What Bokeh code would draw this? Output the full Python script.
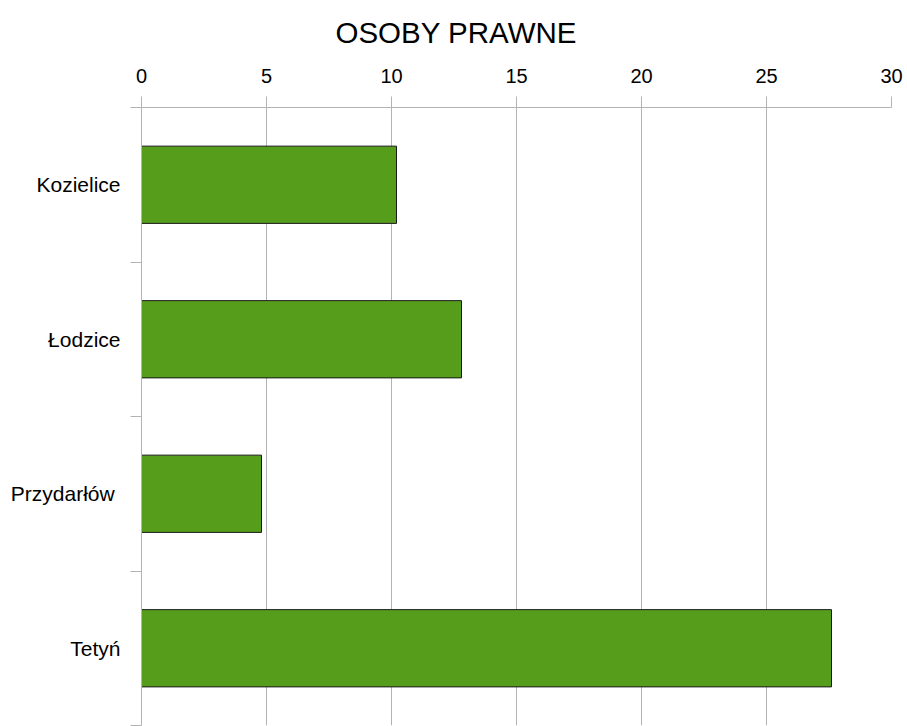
from bokeh.plotting import figure
from bokeh.models import Range1d, FixedTicker, Title
from bokeh.embed import file_html
from bokeh.resources import INLINE

categories = ["Kozielice", "Łodzice", "Przydarłów ", "Tetyń"]
values = [10.2, 12.8, 4.8, 27.6]
x_ticks = [0, 5, 10, 15, 20, 25, 30]

n = len(categories)
ypos = [n - i - 0.5 for i in range(n)]
bounds = [float(i) for i in range(n + 1)]

FONT = "Liberation Sans"
GRID = "#b3b3b3"

p = figure(width=907, height=726, output_backend="svg", toolbar_location=None,
           x_range=Range1d(0, 30), y_range=Range1d(0, n),
           x_axis_location="above", min_border_left=141, min_border_right=16,
           min_border_top=107, min_border_bottom=1, outline_line_color=None)

p.hbar(y=ypos, right=values, left=0, height=0.5, fill_color="#579D1C",
       line_color="#1a1a1a", line_width=1)

xa = p.xaxis[0]
xa.ticker = FixedTicker(ticks=x_ticks)
xa.axis_line_color = GRID
xa.major_tick_line_color = GRID
xa.major_tick_out = 11
xa.major_tick_in = 0
xa.minor_tick_line_color = None
xa.major_label_text_font = FONT
xa.major_label_text_font_size = "20px"
xa.major_label_text_color = "#000000"
xa.major_label_standoff = 14

ya = p.yaxis[0]
ya.ticker = FixedTicker(ticks=ypos, minor_ticks=bounds)
ya.major_label_overrides = {y: c for y, c in zip(ypos, categories)}
ya.axis_line_color = GRID
ya.major_tick_line_color = None
ya.major_tick_out = 0
ya.major_tick_in = 0
ya.minor_tick_line_color = GRID
ya.minor_tick_out = 11
ya.minor_tick_in = 0
ya.major_label_text_font = FONT
ya.major_label_text_font_size = "21px"
ya.major_label_text_color = "#000000"
ya.major_label_standoff = 10

p.xgrid.ticker = FixedTicker(ticks=x_ticks)
p.xgrid.grid_line_color = GRID
p.ygrid.grid_line_color = None

p.title = Title(text="OSOBY PRAWNE", align="left", text_font=FONT,
                text_font_size="29.5px", text_font_style="normal",
                text_color="#000000", offset=194, standoff=29,
                vertical_align="top")

open("out.html", "w").write(file_html(p, INLINE))
